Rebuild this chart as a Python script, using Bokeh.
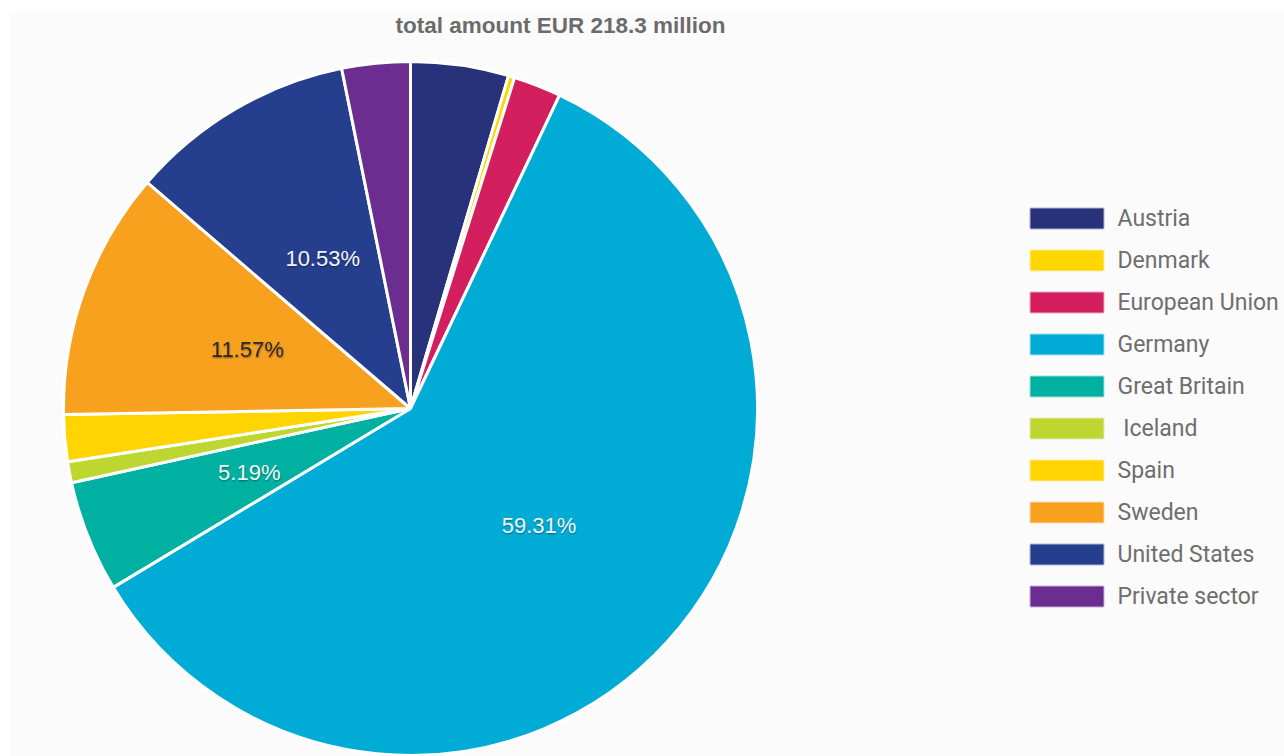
import math
from bokeh.plotting import figure
from bokeh.models import ColumnDataSource, Range1d
from bokeh.core.properties import value
from bokeh.embed import file_html
from bokeh.resources import INLINE

# ---- data ----
categories = ["Austria", "Denmark", "European Union", "Germany", "Great Britain",
              " Iceland", "Spain", "Sweden", "United States", "Private sector"]
shares = [4.56, 0.29, 2.22, 59.31, 5.19, 0.98, 2.17, 11.57, 10.53, 3.18]
colors = ["#28327b", "#ffd700", "#d41f5f", "#00acd6", "#00b0a0",
          "#bed630", "#ffd400", "#f8a11e", "#253f8e", "#6b2d90"]
label_colors = {"Germany": "#f4f4f4", "Great Britain": "#f4f4f4",
                "Sweden": "#2a2a2a", "United States": "#f4f4f4"}
title_text = "total amount EUR 218.3 million"

W, H = 1284, 756
def sy(y):
    return H - y

p = figure(width=W, height=H, output_backend="svg", toolbar_location=None,
           x_range=Range1d(10, W), y_range=Range1d(0, H - 12),
           min_border_left=10, min_border_top=12, min_border_right=0, min_border_bottom=0)
p.axis.visible = False
p.grid.visible = False
p.outline_line_color = None
p.background_fill_color = "#fbfbfb"
p.border_fill_color = "white"

cx, cy, r = 410, sy(408), 347
total = sum(shares)
starts, ends, cum = [], [], 0.0
for s in shares:
    a0 = cum / total
    cum += s
    a1 = cum / total
    starts.append(math.pi / 2 - a0 * 2 * math.pi)
    ends.append(math.pi / 2 - a1 * 2 * math.pi)

src = ColumnDataSource(dict(cat=categories, start=starts, end=ends, color=colors))
p.wedge(x=cx, y=cy, radius=r, start_angle="start", end_angle="end", direction="clock",
        fill_color="color", line_color="white", line_width=3, source=src)

# slice labels (>= 5%)
lx, ly, lt, lc = [], [], [], []
for c, s, a0, a1 in zip(categories, shares, starts, ends):
    if s / total * 100 >= 5:
        mid = (a0 + a1) / 2
        lx.append(cx + 0.5 * r * math.cos(mid))
        ly.append(cy + 0.5 * r * math.sin(mid))
        lt.append(f"{s:.2f}%")
        lc.append(label_colors.get(c, "white"))
lsrc = ColumnDataSource(dict(x=lx, y=ly, t=lt, c=lc))
for dx, dy, al in [(1, 2, 0.10), (0, 1, 0.12), (2, 1, 0.08), (-1, 2, 0.06)]:
    p.text(x="x", y="y", text="t", source=lsrc, x_offset=dx, y_offset=dy,
           text_color="black", text_alpha=al, text_align="center", text_baseline="middle",
           text_font=value("Liberation Sans"), text_font_size="22px")
p.text(x="x", y="y", text="t", source=lsrc, text_color="c",
       text_align="center", text_baseline="middle",
       text_font=value("Liberation Sans"), text_font_size="22px")

# title
p.text(x=[560], y=[sy(25)], text=[title_text], text_color="#6b6b6b", text_font_style="bold",
       text_align="center", text_baseline="middle",
       text_font=value("Liberation Sans"), text_font_size="22.5px")

# legend
ys = [sy(218 + 42 * i) for i in range(len(categories))]
shown = [c.replace(" ", "\u00a0", 1) if c.startswith(" ") else c for c in categories]
gsrc = ColumnDataSource(dict(y=ys, cat=shown, color=colors))
p.rect(x=1066.5, y="y", width=73, height=20, fill_color="color", line_color="color",
       line_alpha=0.35, line_width=2, source=gsrc)
p.text(x=1117, y="y", text="cat", source=gsrc, text_color="#6e6e6e",
       text_align="left", text_baseline="middle",
       text_font=value("Roboto"), text_font_size="23px")

open("out.html", "w").write(file_html(p, INLINE))
